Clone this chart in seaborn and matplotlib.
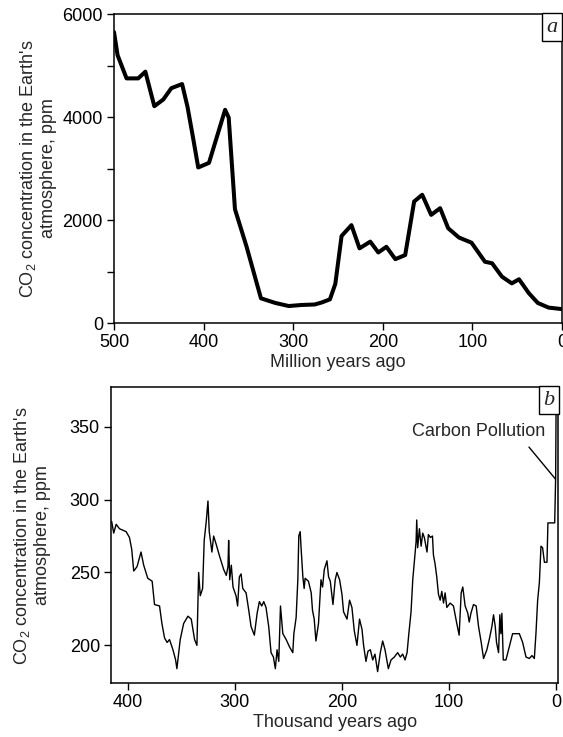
import matplotlib
matplotlib.use("Agg")
import matplotlib.pyplot as plt
import seaborn as sns
import pandas as pd

# (a) CO2 over the last 500 million years
myr_ago = [500, 496, 486, 473, 465, 455, 445, 436, 424, 418,
           412, 406, 394, 376, 372, 365, 352, 336, 320, 305,
           291, 276, 268, 259, 253, 246, 235, 226, 214, 205,
           196, 186, 175, 165, 156, 146, 136, 127, 115, 101,
           86, 78, 67, 56, 48, 37, 27, 15, 0]
co2_myr = [5650, 5200, 4750, 4750, 4880, 4210, 4340, 4560, 4640, 4200,
           3620, 3020, 3110, 4140, 3990, 2210, 1480, 480, 390, 330,
           350, 360, 400, 460, 760, 1690, 1900, 1450, 1580, 1370,
           1480, 1240, 1320, 2360, 2490, 2100, 2230, 1840, 1660, 1560,
           1190, 1160, 900, 770, 850, 580, 390, 300, 270]

# (b) CO2 over the last ~415 thousand years (ice core)
kyr_ago = [415.0, 413.1, 410.8, 407.7, 401.5, 398.4, 396.3, 394.4, 391.3, 387.6,
           385.1, 381.3, 377.2, 375.0, 370.3, 368.1, 365.6, 363.2, 361.0, 357.8,
           355.3, 354.1, 351.0, 347.8, 343.8, 340.7, 337.6, 335.4, 333.8, 332.3,
           330.1, 328.6, 326.7, 325.1, 323.9, 321.4, 319.8, 317.3, 314.2, 310.4,
           308.0, 306.4, 305.8, 304.8, 303.3, 301.7, 298.9, 297.4, 295.8, 294.2,
           292.6, 289.5, 287.0, 284.9, 281.8, 279.2, 277.1, 274.9, 273.0, 270.9,
           268.4, 266.2, 264.0, 262.2, 260.6, 259.0, 257.4, 255.2, 252.1, 249.0,
           245.9, 244.9, 242.8, 241.2, 240.3, 239.0, 238.1, 236.5, 235.3, 234.4,
           231.3, 228.7, 227.5, 225.9, 224.3, 221.9, 219.6, 218.1, 216.5, 214.0,
           212.5, 210.9, 208.4, 206.3, 204.7, 202.2, 200.0, 198.5, 195.3, 192.9,
           190.7, 188.5, 186.0, 183.6, 181.3, 179.8, 177.6, 175.7, 173.5, 171.3,
           169.2, 166.7, 164.2, 162.0, 159.8, 156.7, 154.2, 151.1, 148.0, 145.5,
           143.3, 141.1, 139.2, 137.7, 135.5, 133.9, 132.4, 130.8, 130.2, 129.3,
           127.7, 126.1, 124.6, 123.1, 120.6, 119.3, 117.4, 115.5, 114.6, 113.1,
           111.5, 109.9, 108.3, 106.8, 105.2, 103.7, 102.1, 99.0, 95.9, 92.8,
           90.6, 88.7, 87.2, 85.0, 82.5, 81.2, 79.6, 77.2, 74.7, 72.5,
           70.0, 67.8, 64.7, 62.2, 60.0, 58.5, 56.9, 55.7, 53.8, 52.6,
           51.6, 50.7, 49.4, 46.9, 43.8, 40.7, 34.4, 31.3, 28.2, 25.1,
           22.6, 20.4, 18.9, 17.3, 15.7, 14.2, 12.7, 11.0, 8.6, 7.7,
           1.4, 0.5, 0.0]
co2_kyr = [285, 277, 283, 280, 278, 274, 266, 251, 254, 264,
           255, 246, 244, 228, 227, 215, 205, 202, 204, 197,
           190, 184, 204, 215, 220, 218, 204, 200, 250, 234,
           239, 272, 285, 299, 278, 264, 275, 269, 261, 252,
           248, 254, 272, 245, 255, 240, 234, 227, 247, 249,
           239, 236, 224, 213, 207, 222, 230, 227, 230, 226,
           213, 195, 192, 184, 197, 189, 227, 208, 204, 199,
           195, 208, 219, 245, 275, 278, 266, 247, 239, 246,
           244, 236, 224, 218, 203, 215, 245, 240, 252, 258,
           247, 244, 228, 245, 250, 245, 235, 223, 218, 231,
           226, 210, 200, 218, 211, 200, 189, 196, 197, 190,
           194, 182, 195, 203, 197, 184, 190, 192, 195, 192,
           194, 190, 195, 207, 223, 245, 258, 271, 286, 267,
           280, 268, 277, 274, 264, 276, 274, 275, 262, 256,
           247, 235, 231, 237, 229, 236, 226, 229, 227, 215,
           207, 236, 240, 227, 222, 216, 222, 228, 227, 213,
           202, 191, 197, 205, 213, 221, 213, 202, 195, 221,
           208, 222, 190, 190, 199, 208, 208, 202, 192, 191,
           193, 191, 208, 231, 243, 268, 267, 257, 257, 284,
           284, 315, 375]

df_a = pd.DataFrame({"age": myr_ago, "co2": co2_myr})
df_b = pd.DataFrame({"age": kyr_ago, "co2": co2_kyr})

sns.set_style("ticks")
plt.rcParams["font.family"] = ["Liberation Sans", "DejaVu Sans"]
plt.rcParams["mathtext.default"] = "regular"
plt.rcParams["axes.linewidth"] = 1.1
plt.rcParams["xtick.major.width"] = 1.0
plt.rcParams["ytick.major.width"] = 1.0
plt.rcParams["xtick.major.size"] = 5
plt.rcParams["ytick.major.size"] = 5
plt.rcParams["xtick.color"] = "black"
plt.rcParams["ytick.color"] = "black"
plt.rcParams["axes.edgecolor"] = "black"

ylabel = "CO$_2$ concentration in the Earth's\natmosphere, ppm"
fs = 13

fig = plt.figure(figsize=(5.63, 7.37), dpi=100)
ax_a = fig.add_axes([0.2025, 0.5617, 0.7957, 0.4193])
ax_b = fig.add_axes([0.1972, 0.0729, 0.7945, 0.4016])

# panel a
sns.lineplot(data=df_a, x="age", y="co2", ax=ax_a, color="black", lw=2.9, sort=False)
ax_a.set_xlim(500, 0)
ax_a.set_ylim(0, 6000)
ax_a.set_xticks([500, 400, 300, 200, 100, 0])
ax_a.set_yticks([0, 1000, 2000, 3000, 4000, 5000, 6000])
ax_a.set_yticklabels(["0", "", "2000", "", "4000", "", "6000"])
ax_a.set_xlabel("Million years ago", fontsize=fs, labelpad=2)
ax_a.set_ylabel(ylabel, fontsize=fs, linespacing=1.15)
ax_a.yaxis.set_label_coords(-0.128, 0.5)

# panel b
sns.lineplot(data=df_b, x="age", y="co2", ax=ax_b, color="black", lw=1.0, sort=False)
ax_b.set_xlim(415.6, -2)
ax_b.set_ylim(174, 377)
ax_b.set_xticks([400, 300, 200, 100, 0])
ax_b.set_yticks([200, 250, 300, 350])
ax_b.set_xlabel("Thousand years ago", fontsize=fs, labelpad=2)
ax_b.set_ylabel(ylabel, fontsize=fs, linespacing=1.15)
ax_b.yaxis.set_label_coords(-0.134, 0.5)

ax_b.text(9.8, 347, "Carbon Pollution", fontsize=fs, ha="right", va="center")
ax_b.annotate("", xy=(0.6, 314), xytext=(25.4, 336),
              arrowprops=dict(arrowstyle="-", color="black", lw=1.0,
                              shrinkA=0, shrinkB=0))

for ax, letter in [(ax_a, "a"), (ax_b, "b")]:
    ax.tick_params(labelsize=fs, pad=3, direction="out")
    for s in ax.spines.values():
        s.set_visible(True)
    ax.annotate(letter, xy=(1, 1), xycoords="axes fraction",
                xytext=(-3.0, -2.6), textcoords="offset points",
                ha="right", va="top", fontsize=16, fontstyle="italic",
                family=["Liberation Serif", "DejaVu Serif"],
                bbox=dict(boxstyle="square,pad=0.2", fc="white", ec="black", lw=1.0))

fig.savefig("out.png", dpi=100)
